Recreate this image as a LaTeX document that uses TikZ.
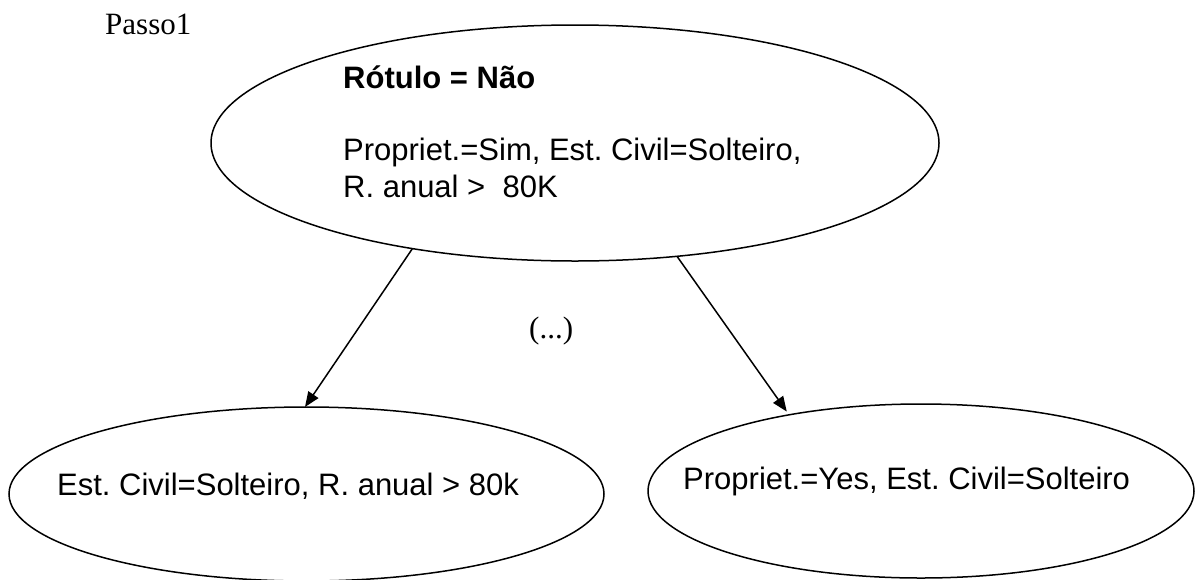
\documentclass[tikz,border=0pt]{standalone}
\usepackage{fontspec}
\setmainfont{Liberation Serif}
\newfontfamily\arialfont{Liberation Sans}
\usetikzlibrary{shapes.geometric,arrows.meta}
\frenchspacing

\tikzset{
  oval/.style={draw=black, line width=1.5pt, ellipse, inner sep=0pt, outer sep=0pt},
  txt/.style={anchor=base west, inner sep=0pt, font=\arialfont\fontsize{31}{37}\selectfont},
  serif/.style={anchor=base west, inner sep=0pt, font=\fontsize{31}{37}\selectfont},
  link/.style={line width=1.5pt, -{Triangle[length=15pt,width=12pt]}}
}

\begin{document}
\begin{tikzpicture}[x=1pt,y=-1pt]
  \useasboundingbox (0,0) rectangle (1196,579);

  % step label
  \node[serif] (passo) at (105,34) {Passo1};

  % root node and its text
  \node[oval, minimum width=728pt, minimum height=236pt] (root) at (575,143) {};
  \node[txt, font=\arialfont\bfseries\fontsize{31}{37}\selectfont] (rotulo) at (343,88) {Rótulo = Não};
  \node[txt] (cond1) at (343,160) {Propriet.=Sim, Est. Civil=Solteiro,};
  \node[txt] (cond2) at (343,197) {R. anual >\ \ 80K};

  % child nodes
  \node[oval, minimum width=595pt, minimum height=174pt] (left) at (306.5,494) {};
  \node[txt] (ltext) at (57,495) {Est. Civil=Solteiro, R. anual > 80k};

  \node[oval, minimum width=546pt, minimum height=174pt] (right) at (921,491) {};
  \node[txt] (rtext) at (683,489) {Propriet.=Yes, Est. Civil=Solteiro};

  % ellipsis between the branches
  \node[serif] (dots) at (529,338) {(...)};

  % branches
  \draw[link] (root.213.2) -- (left.91);
  \draw[link, shorten >=4pt] (root.312.4) -- (right.150);
\end{tikzpicture}
\end{document}
